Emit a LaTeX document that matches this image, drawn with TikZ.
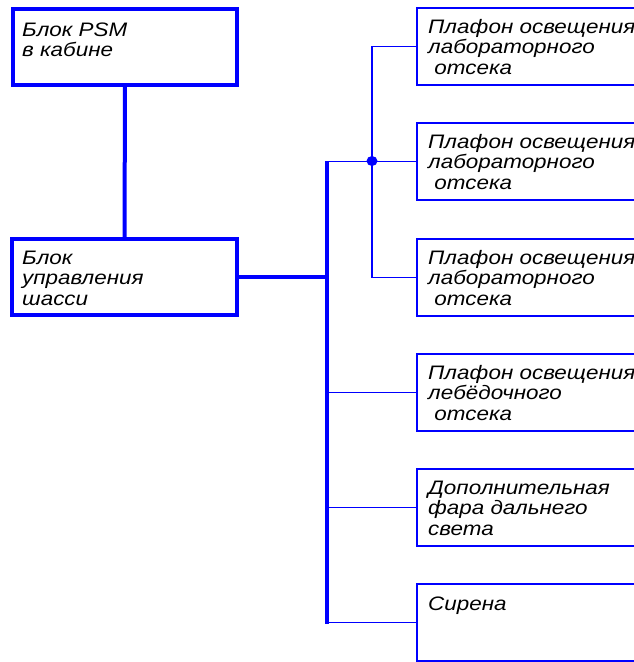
\documentclass[tikz,border=0pt]{standalone}
\usepackage{fontspec}
\setmainfont{Liberation Sans}
\newfontfamily\lblfont[FakeStretch=1.15]{Liberation Sans}
\usetikzlibrary{calc}
\definecolor{wire}{RGB}{0,0,255}
\begin{document}
\begin{tikzpicture}[
  x=1pt, y=-1pt,
  heavybox/.style={draw=wire, line width=4pt, rectangle, inner sep=0pt, outer sep=0pt,
    anchor=north west, minimum height=76pt},
  lightbox/.style={draw=wire, line width=1.3pt, rectangle, inner sep=0pt, outer sep=0pt,
    anchor=north west, minimum width=300pt, minimum height=77pt},
  heavywire/.style={draw=wire, line width=4pt},
  lightwire/.style={draw=wire, line width=1.3pt},
  lbl/.style={anchor=base west, inner sep=0pt, text=black,
    font=\lblfont\itshape\fontsize{19.5}{20.8}\selectfont}
]
\useasboundingbox (0,0) rectangle (634,662);
\clip (0,0) rectangle (634,662);

% left-hand units
\node[heavybox, minimum width=224pt] (psm) at (13,9) {};
\node[heavybox, minimum width=225pt] (ctrl) at (12,239) {};
\node[lbl] (psmtext) at ($(psm.north west)+(9,27)$)
  {\begin{tabular}[t]{@{}l@{}}Блок PSM\\в кабине\end{tabular}};
\node[lbl] (ctrltext) at ($(ctrl.north west)+(10,25)$)
  {\begin{tabular}[t]{@{}l@{}}Блок\\управления\\шасси\end{tabular}};

% consumers on the right
\node[lightbox] (r1) at (417,8) {};
\node[lightbox] (r2) at (417,123) {};
\node[lightbox] (r3) at (417,239) {};
\node[lightbox] (r4) at (417,354) {};
\node[lightbox] (r5) at (417,469) {};
\node[lightbox] (r6) at (417,584) {};

\node[lbl] (t1) at ($(r1.north west)+(11,25)$)
  {\begin{tabular}[t]{@{}l@{}}Плафон освещения\\лабораторного\\\ отсека\end{tabular}};
\node[lbl] (t2) at ($(r2.north west)+(11,25)$)
  {\begin{tabular}[t]{@{}l@{}}Плафон освещения\\лабораторного\\\ отсека\end{tabular}};
\node[lbl] (t3) at ($(r3.north west)+(11,25)$)
  {\begin{tabular}[t]{@{}l@{}}Плафон освещения\\лабораторного\\\ отсека\end{tabular}};
\node[lbl] (t4) at ($(r4.north west)+(11,25)$)
  {\begin{tabular}[t]{@{}l@{}}Плафон освещения\\лебёдочного\\\ отсека\end{tabular}};
\node[lbl] (t5) at ($(r5.north west)+(11,25)$)
  {\begin{tabular}[t]{@{}l@{}}Дополнительная\\фара дальнего\\света\end{tabular}};
\node[lbl] (t6) at ($(r6.north west)+(11,26)$) {Сирена};

% bus and junction
\coordinate (bustop) at (327,161);
\coordinate (busbot) at (327,624);
\coordinate (junc) at (372,161);

\draw[heavywire] (psm.south) -- (ctrl.north);
\draw[heavywire] (ctrl.east) -- (ctrl.east -| bustop);
\draw[heavywire] (bustop) -- (busbot);

% branches to the consumers
\draw[lightwire] (r2.west -| bustop) -- (r2.west);
\draw[lightwire] (r1.west) -- (r1.west -| junc) -- (r3.west -| junc) -- (r3.west);
\draw[lightwire] (r4.west -| bustop) -- (r4.west);
\draw[lightwire] (r5.west -| bustop) -- (r5.west);
\draw[lightwire] (r6.west -| bustop) -- (r6.west);
\fill[wire] (junc) ellipse [x radius=5.5pt, y radius=5pt];
\end{tikzpicture}
\end{document}
